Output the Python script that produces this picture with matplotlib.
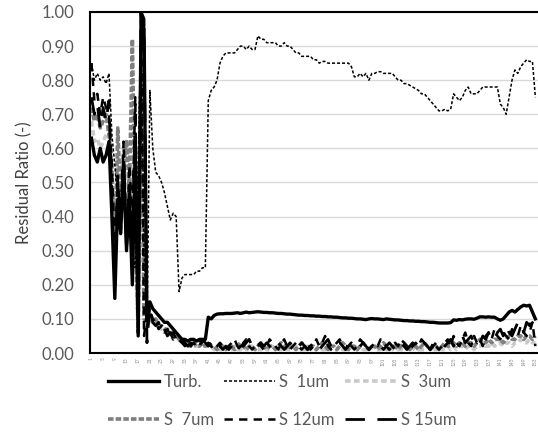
import numpy as np
import matplotlib
matplotlib.use("Agg")
import matplotlib.pyplot as plt

plt.rcParams['font.family'] = ['Lato', 'DejaVu Sans']
plt.rcParams['lines.scale_dashes'] = False

# residual ratio per sample (1..153)
turb = [0.63, 0.58, 0.56, 0.60, 0.56, 0.58, 0.62, 0.40, 0.16, 0.45,
        0.35, 0.55, 0.30, 0.45, 0.20, 0.60, 0.05, 1.00, 0.95, 0.10,
        0.15, 0.13, 0.12, 0.11, 0.10, 0.09, 0.09, 0.08, 0.07, 0.06,
        0.05, 0.04, 0.04, 0.035, 0.04, 0.04, 0.035, 0.04, 0.04, 0.04,
        0.105, 0.10, 0.11, 0.114, 0.115, 0.115, 0.116, 0.116, 0.116, 0.117,
        0.118, 0.116, 0.118, 0.12, 0.118, 0.119, 0.12, 0.121, 0.12, 0.119,
        0.119, 0.118, 0.118, 0.117, 0.116, 0.116, 0.115, 0.114, 0.114, 0.113,
        0.112, 0.111, 0.111, 0.11, 0.11, 0.109, 0.109, 0.108, 0.108, 0.107,
        0.107, 0.106, 0.106, 0.105, 0.105, 0.104, 0.103, 0.103, 0.102, 0.102,
        0.101, 0.10, 0.10, 0.099, 0.098, 0.10, 0.101, 0.10, 0.10, 0.099,
        0.098, 0.10, 0.099, 0.098, 0.097, 0.097, 0.096, 0.095, 0.095, 0.094,
        0.094, 0.093, 0.093, 0.092, 0.092, 0.091, 0.09, 0.09, 0.089, 0.088,
        0.088, 0.088, 0.088, 0.089, 0.097, 0.096, 0.098, 0.097, 0.099, 0.10,
        0.10, 0.099, 0.102, 0.106, 0.106, 0.105, 0.106, 0.105, 0.105, 0.10,
        0.096, 0.10, 0.11, 0.12, 0.125, 0.12, 0.128, 0.135, 0.14, 0.138,
        0.14, 0.12, 0.10]

s1 = [0.85, 0.80, 0.82, 0.80, 0.81, 0.79, 0.82, 0.64, 0.55, 0.45,
      0.40, 0.55, 0.35, 0.48, 0.30, 0.25, 0.55, 0.98, 0.30, 0.05,
      0.77, 0.60, 0.53, 0.52, 0.50, 0.47, 0.43, 0.39, 0.41, 0.40,
      0.18, 0.22, 0.23, 0.23, 0.23, 0.23, 0.24, 0.24, 0.25, 0.25,
      0.74, 0.77, 0.78, 0.80, 0.85, 0.87, 0.88, 0.88, 0.88, 0.88,
      0.89, 0.90, 0.90, 0.89, 0.90, 0.89, 0.89, 0.93, 0.92, 0.92,
      0.91, 0.91, 0.91, 0.91, 0.90, 0.90, 0.91, 0.90, 0.90, 0.89,
      0.88, 0.88, 0.87, 0.87, 0.87, 0.87, 0.86, 0.86, 0.85, 0.855,
      0.855, 0.85, 0.85, 0.85, 0.85, 0.85, 0.85, 0.85, 0.85, 0.84,
      0.81, 0.81, 0.82, 0.81, 0.82, 0.80, 0.82, 0.82, 0.825, 0.825,
      0.82, 0.82, 0.82, 0.82, 0.81, 0.80, 0.80, 0.79, 0.79, 0.785,
      0.78, 0.775, 0.77, 0.76, 0.76, 0.75, 0.74, 0.73, 0.72, 0.71,
      0.71, 0.715, 0.71, 0.715, 0.76, 0.75, 0.74, 0.75, 0.77, 0.78,
      0.76, 0.76, 0.76, 0.77, 0.78, 0.78, 0.78, 0.78, 0.78, 0.78,
      0.73, 0.72, 0.70, 0.75, 0.80, 0.83, 0.82, 0.84, 0.85, 0.86,
      0.855, 0.855, 0.75]

s3 = [0.68, 0.62, 0.63, 0.60, 0.62, 0.64, 0.66, 0.50, 0.35, 0.58,
      0.48, 0.60, 0.45, 0.55, 0.50, 0.30, 0.06, 0.90, 0.50, 0.08,
      0.10, 0.09, 0.08, 0.08, 0.07, 0.07, 0.06, 0.06, 0.05, 0.05,
      0.04, 0.03, 0.03, 0.02, 0.02, 0.02, 0.02, 0.02, 0.02, 0.02,
      0.02, 0.02, 0.01, 0.02, 0.01, 0.01, 0.02, 0.01, 0.01, 0.02,
      0.01, 0.01, 0.02, 0.01, 0.01, 0.02, 0.01, 0.01, 0.01, 0.02,
      0.01, 0.01, 0.02, 0.01, 0.01, 0.01, 0.02, 0.01, 0.01, 0.01,
      0.02, 0.01, 0.01, 0.01, 0.02, 0.01, 0.01, 0.01, 0.02, 0.01,
      0.01, 0.02, 0.01, 0.01, 0.01, 0.02, 0.01, 0.01, 0.01, 0.02,
      0.01, 0.01, 0.02, 0.01, 0.01, 0.01, 0.02, 0.01, 0.01, 0.01,
      0.02, 0.01, 0.01, 0.01, 0.02, 0.01, 0.01, 0.01, 0.02, 0.01,
      0.01, 0.02, 0.01, 0.01, 0.01, 0.02, 0.01, 0.01, 0.01, 0.02,
      0.01, 0.01, 0.02, 0.01, 0.02, 0.01, 0.02, 0.02, 0.01, 0.02,
      0.02, 0.01, 0.02, 0.02, 0.03, 0.02, 0.02, 0.03, 0.02, 0.03,
      0.03, 0.02, 0.03, 0.03, 0.02, 0.03, 0.03, 0.04, 0.03, 0.03,
      0.04, 0.03, 0.03]

s7 = [0.72, 0.68, 0.70, 0.66, 0.68, 0.70, 0.64, 0.55, 0.25, 0.66,
      0.45, 0.55, 0.62, 0.48, 0.92, 0.40, 0.06, 0.85, 0.10, 0.09,
      0.11, 0.09, 0.10, 0.08, 0.08, 0.07, 0.07, 0.06, 0.06, 0.05,
      0.04, 0.04, 0.03, 0.03, 0.02, 0.03, 0.02, 0.02, 0.03, 0.02,
      0.03, 0.02, 0.02, 0.01, 0.02, 0.02, 0.01, 0.02, 0.02, 0.01,
      0.02, 0.03, 0.02, 0.01, 0.02, 0.02, 0.01, 0.02, 0.03, 0.02,
      0.01, 0.02, 0.02, 0.01, 0.02, 0.03, 0.02, 0.01, 0.02, 0.02,
      0.01, 0.02, 0.03, 0.02, 0.01, 0.02, 0.02, 0.01, 0.02, 0.03,
      0.02, 0.01, 0.02, 0.02, 0.01, 0.02, 0.03, 0.02, 0.01, 0.02,
      0.02, 0.01, 0.02, 0.03, 0.02, 0.01, 0.02, 0.02, 0.01, 0.02,
      0.03, 0.02, 0.01, 0.02, 0.02, 0.01, 0.02, 0.03, 0.02, 0.01,
      0.02, 0.02, 0.01, 0.02, 0.03, 0.02, 0.01, 0.02, 0.02, 0.01,
      0.02, 0.03, 0.02, 0.02, 0.03, 0.02, 0.03, 0.03, 0.02, 0.03,
      0.03, 0.02, 0.03, 0.04, 0.03, 0.03, 0.04, 0.03, 0.04, 0.04,
      0.04, 0.03, 0.04, 0.05, 0.04, 0.04, 0.05, 0.05, 0.04, 0.05,
      0.05, 0.04, 0.05]

s12 = [0.85, 0.74, 0.76, 0.70, 0.75, 0.72, 0.70, 0.55, 0.30, 0.50,
       0.40, 0.62, 0.32, 0.55, 0.40, 0.75, 0.10, 1.00, 0.05, 0.12,
       0.12, 0.10, 0.09, 0.07, 0.08, 0.06, 0.07, 0.05, 0.06, 0.04,
       0.04, 0.03, 0.02, 0.03, 0.02, 0.03, 0.02, 0.04, 0.03, 0.02,
       0.03, 0.02, 0.01, 0.02, 0.03, 0.02, 0.01, 0.02, 0.03, 0.04,
       0.02, 0.01, 0.03, 0.04, 0.02, 0.01, 0.02, 0.03, 0.02, 0.01,
       0.02, 0.04, 0.03, 0.02, 0.01, 0.03, 0.04, 0.02, 0.01, 0.02,
       0.03, 0.02, 0.01, 0.02, 0.03, 0.01, 0.02, 0.04, 0.02, 0.03,
       0.05, 0.02, 0.01, 0.02, 0.03, 0.04, 0.02, 0.01, 0.03, 0.02,
       0.01, 0.02, 0.04, 0.03, 0.02, 0.01, 0.02, 0.03, 0.02, 0.04,
       0.03, 0.02, 0.01, 0.02, 0.03, 0.02, 0.04, 0.03, 0.02, 0.01,
       0.02, 0.03, 0.02, 0.04, 0.03, 0.02, 0.01, 0.03, 0.02, 0.01,
       0.02, 0.03, 0.04, 0.02, 0.05, 0.03, 0.02, 0.04, 0.06, 0.03,
       0.02, 0.05, 0.03, 0.04, 0.02, 0.05, 0.06, 0.04, 0.07, 0.05,
       0.04, 0.06, 0.05, 0.04, 0.07, 0.06, 0.05, 0.08, 0.06, 0.05,
       0.06, 0.09, 0.02]

s15 = [0.75, 0.70, 0.73, 0.66, 0.72, 0.68, 0.74, 0.45, 0.20, 0.52,
       0.35, 0.58, 0.30, 0.50, 0.35, 0.70, 0.06, 1.00, 0.98, 0.03,
       0.14, 0.09, 0.08, 0.09, 0.06, 0.07, 0.05, 0.06, 0.04, 0.05,
       0.03, 0.04, 0.03, 0.02, 0.03, 0.02, 0.03, 0.02, 0.04, 0.03,
       0.02, 0.03, 0.02, 0.01, 0.02, 0.01, 0.02, 0.01, 0.02, 0.03,
       0.01, 0.02, 0.02, 0.03, 0.04, 0.02, 0.01, 0.02, 0.03, 0.02,
       0.03, 0.02, 0.01, 0.02, 0.03, 0.02, 0.01, 0.02, 0.03, 0.02,
       0.01, 0.02, 0.03, 0.02, 0.01, 0.02, 0.03, 0.02, 0.01, 0.02,
       0.03, 0.04, 0.02, 0.01, 0.02, 0.03, 0.02, 0.01, 0.02, 0.03,
       0.02, 0.01, 0.02, 0.03, 0.02, 0.01, 0.02, 0.02, 0.03, 0.02,
       0.01, 0.02, 0.03, 0.02, 0.01, 0.02, 0.03, 0.02, 0.01, 0.02,
       0.03, 0.02, 0.01, 0.02, 0.03, 0.02, 0.01, 0.02, 0.03, 0.02,
       0.01, 0.02, 0.03, 0.04, 0.02, 0.03, 0.04, 0.05, 0.03, 0.04,
       0.05, 0.03, 0.04, 0.03, 0.05, 0.04, 0.06, 0.05, 0.04, 0.06,
       0.07, 0.05, 0.08, 0.06, 0.05, 0.07, 0.09, 0.08, 0.06, 0.09,
       0.08, 0.10, 0.09]

labels = ['Turb.', 'S  1um', 'S  3um', 'S  7um', 'S 12um', 'S 15um']

x = np.arange(1, len(turb) + 1)

fig = plt.figure(figsize=(5.38, 4.41), dpi=100)
ax = fig.add_axes([90 / 538, 1 - 353 / 441, 1 - 90 / 538, (353 - 12) / 441])

l_s3, = ax.plot(x, s3, color='#c9c9c9', lw=2.6, dashes=(4, 2.5))
l_s7, = ax.plot(x, s7, color='#7f7f7f', lw=2.6, dashes=(4, 1.5))
l_s1, = ax.plot(x, s1, color='black', lw=1.1, dashes=(2.2, 1.4))
l_s12, = ax.plot(x, s12, color='black', lw=1.8, dashes=(6, 4.5))
l_s15, = ax.plot(x, s15, color='black', lw=2.0, dashes=(14, 9))
l_turb, = ax.plot(x, turb, color='black', lw=2.4)

ax.set_xlim(0.5, 153.9)
ax.set_ylim(0, 1)
ax.set_yticks(np.arange(0, 1.01, 0.1))
ax.set_yticklabels(['%.2f' % v for v in np.arange(0, 1.01, 0.1)],
                   fontsize=12, color='#595959')
ax.set_xticks(x[::4])
ax.set_xticklabels([str(v) for v in x[::4]], rotation=90, fontsize=3.5,
                   color='#8c8c8c')
ax.tick_params(axis='both', length=0)
ax.tick_params(axis='y', pad=11)
ax.tick_params(axis='x', pad=3)
ax.grid(axis='y', color='#d9d9d9', lw=1)
ax.set_axisbelow(True)
for side in ['left', 'bottom', 'top']:
    ax.spines[side].set_color('black')
    ax.spines[side].set_linewidth(1.5)
ax.spines['right'].set_visible(False)

ax.set_ylabel('Residual Ratio (-)', fontsize=12, color='#404040', labelpad=7)

handles = [l_turb, l_s7, l_s1, l_s12, l_s3, l_s15]
names = [labels[0], labels[3], labels[1], labels[4], labels[2], labels[5]]
leg = fig.legend(handles, names, ncol=3, loc='center',
                 bbox_to_anchor=(282 / 538, 1 - 401 / 441), frameon=False,
                 fontsize=12, handlelength=3.1, handletextpad=0.25,
                 columnspacing=0.6, labelspacing=1.35)
for t in leg.get_texts():
    t.set_color('#595959')

fig.savefig('out.png', dpi=100)
